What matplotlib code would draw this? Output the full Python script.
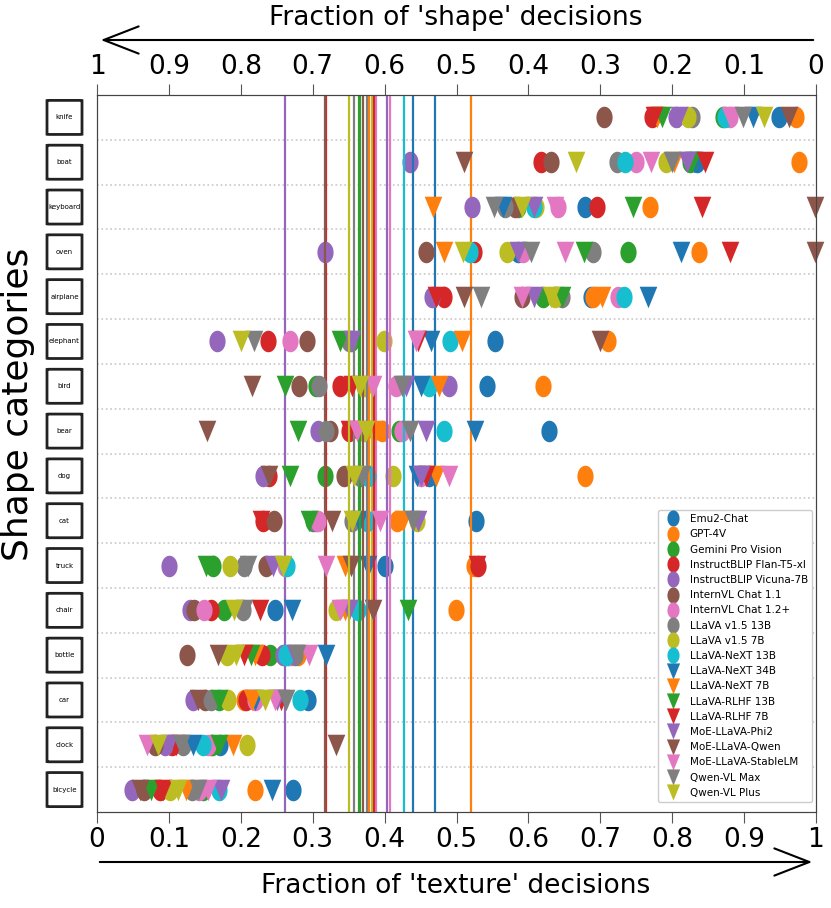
import numpy as np
import matplotlib
matplotlib.use("Agg")
import matplotlib.pyplot as plt
import matplotlib.transforms as mtransforms
from matplotlib.patches import FancyBboxPatch, FancyArrowPatch
from matplotlib.path import Path

# shape categories, top to bottom
categories = ["knife", "boat", "keyboard", "oven", "airplane", "elephant", "bird", "bear",
              "dog", "cat", "truck", "chair", "bottle", "car", "clock", "bicycle"]

# fraction of texture decisions per category
emu2_chat = [0.949, 0.835, 0.679, 0.585, 0.687, 0.553, 0.543, 0.629, 0.462, 0.527, 0.400, 0.247, 0.265, 0.293, 0.171, 0.272]
gpt_4v = [0.972, 0.976, 0.769, 0.837, 0.690, 0.711, 0.620, 0.396, 0.679, 0.417, 0.524, 0.499, 0.279, 0.204, 0.159, 0.220]
gemini_pro = [0.871, 0.825, 0.585, 0.739, 0.621, 0.353, 0.305, 0.420, 0.317, 0.300, 0.162, 0.177, 0.240, 0.170, 0.160, 0.147]
iblip_flan = [0.772, 0.618, 0.695, 0.524, 0.483, 0.238, 0.338, 0.351, 0.239, 0.231, 0.530, 0.158, 0.229, 0.207, 0.105, 0.087]
iblip_vicuna = [0.805, 0.436, 0.522, 0.317, 0.466, 0.167, 0.489, 0.307, 0.231, 0.305, 0.100, 0.129, 0.258, 0.134, 0.095, 0.049]
internvl_11 = [0.705, 0.631, 0.582, 0.457, 0.591, 0.292, 0.281, 0.324, 0.343, 0.246, 0.235, 0.135, 0.125, 0.150, 0.080, 0.065]
internvl_12 = [0.880, 0.749, 0.641, 0.592, 0.725, 0.268, 0.416, 0.424, 0.450, 0.307, 0.262, 0.149, 0.270, 0.220, 0.155, 0.142]
llava15_13b = [0.828, 0.723, 0.568, 0.690, 0.647, 0.350, 0.309, 0.318, 0.366, 0.354, 0.204, 0.203, 0.275, 0.158, 0.120, 0.132]
llava15_7b = [0.822, 0.791, 0.611, 0.570, 0.637, 0.399, 0.371, 0.371, 0.412, 0.445, 0.185, 0.332, 0.181, 0.182, 0.209, 0.102]
next_13b = [0.874, 0.735, 0.608, 0.519, 0.733, 0.491, 0.462, 0.483, 0.377, 0.375, 0.264, 0.363, 0.263, 0.283, 0.147, 0.170]
next_34b = [0.912, 0.830, 0.565, 0.812, 0.766, 0.464, 0.450, 0.526, 0.445, 0.365, 0.377, 0.271, 0.319, 0.220, 0.134, 0.244]
next_7b = [0.779, 0.803, 0.468, 0.482, 0.703, 0.508, 0.476, 0.388, 0.472, 0.425, 0.345, 0.345, 0.220, 0.215, 0.189, 0.124]
rlhf_13b = [0.786, 0.828, 0.745, 0.677, 0.647, 0.338, 0.261, 0.279, 0.268, 0.295, 0.152, 0.432, 0.214, 0.170, 0.170, 0.075]
rlhf_7b = [0.775, 0.845, 0.841, 0.880, 0.472, 0.447, 0.355, 0.350, 0.457, 0.228, 0.529, 0.227, 0.205, 0.256, 0.110, 0.092]
moe_phi2 = [0.810, 0.820, 0.608, 0.585, 0.608, 0.355, 0.430, 0.458, 0.450, 0.446, 0.245, 0.350, 0.275, 0.250, 0.100, 0.172]
moe_qwen = [0.962, 0.511, 0.999, 0.999, 0.511, 0.699, 0.215, 0.153, 0.239, 0.327, 0.353, 0.384, 0.168, 0.140, 0.333, 0.060]
moe_stablelm = [0.881, 0.770, 0.637, 0.651, 0.591, 0.443, 0.384, 0.361, 0.489, 0.394, 0.318, 0.338, 0.295, 0.247, 0.070, 0.154]
qwen_vl_max = [0.899, 0.800, 0.552, 0.603, 0.534, 0.218, 0.424, 0.435, 0.368, 0.439, 0.210, 0.205, 0.278, 0.263, 0.117, 0.140]
qwen_vl_plus = [0.928, 0.666, 0.591, 0.509, 0.631, 0.200, 0.366, 0.374, 0.357, 0.355, 0.259, 0.190, 0.194, 0.234, 0.085, 0.112]

model_names = ["Emu2-Chat", "GPT-4V", "Gemini Pro Vision", "InstructBLIP Flan-T5-xl",
               "InstructBLIP Vicuna-7B", "InternVL Chat 1.1", "InternVL Chat 1.2+",
               "LLaVA v1.5 13B", "LLaVA v1.5 7B", "LLaVA-NeXT 13B", "LLaVA-NeXT 34B",
               "LLaVA-NeXT 7B", "LLaVA-RLHF 13B", "LLaVA-RLHF 7B", "MoE-LLaVA-Phi2",
               "MoE-LLaVA-Qwen", "MoE-LLaVA-StableLM", "Qwen-VL Max", "Qwen-VL Plus"]
model_values = [emu2_chat, gpt_4v, gemini_pro, iblip_flan, iblip_vicuna, internvl_11,
                internvl_12, llava15_13b, llava15_7b, next_13b, next_34b, next_7b,
                rlhf_13b, rlhf_7b, moe_phi2, moe_qwen, moe_stablelm, qwen_vl_max, qwen_vl_plus]
# overall texture fraction per model (vertical lines)
model_means = [0.470, 0.520, 0.364, 0.318, 0.262, 0.317, 0.388, 0.358, 0.383, 0.427,
               0.440, 0.378, 0.366, 0.385, 0.403, 0.370, 0.407, 0.375, 0.351]

colors = plt.get_cmap("tab10").colors

# the reference figure is slightly stretched vertically -> tall markers
theta = np.linspace(0, 2 * np.pi, 64)
tall_circle = Path(np.column_stack([np.cos(theta) / 1.33, np.sin(theta)]))
tall_tri = Path([(-0.82, 1.0), (0.82, 1.0), (0.0, -1.0), (-0.82, 1.0)])

fig = plt.figure(figsize=(8.31, 9.08), dpi=100)
ax = fig.add_axes([97 / 831, 1 - 812 / 908, 719 / 831, 717 / 908])

n = len(categories)
ypos = np.arange(1, n + 1)

for i, (name, vals, avg) in enumerate(zip(model_names, model_values, model_means)):
    c = colors[i % 10]
    mk = tall_circle if i < 10 else tall_tri
    ax.plot(vals, ypos, marker=mk, color=c, markersize=15.5, markeredgewidth=0,
            linestyle="none", label=name, clip_on=False, zorder=3)
    ax.plot([avg, avg], [0.5, n + 0.5], color=c, lw=1.6, zorder=3)

for b in np.arange(1.5, n, 1.0):
    ax.axhline(b, color="#c8c8c8", ls=":", lw=1.2, zorder=1)

ax.set_xlim(0, 1)
ax.set_ylim(n + 0.5, 0.5)
ax.set_yticks([])
xt = np.round(np.arange(0, 1.01, 0.1), 1)
ax.set_xticks(xt)
ax.set_xticklabels(["0"] + ["%.1f" % v for v in xt[1:-1]] + ["1"], fontsize=19)
ax.tick_params(axis="x", direction="out", length=8, color="#555555", pad=3)

top = ax.twiny()
top.set_xlim(0, 1)
top.set_xticks(xt)
top.set_xticklabels(["1"] + ["%.1f" % (1 - v) for v in xt[1:-1]] + ["0"], fontsize=19)
top.tick_params(axis="x", direction="out", length=8, color="#555555", pad=3)
for sp in list(ax.spines.values()) + list(top.spines.values()):
    sp.set_color("#444444")

leg = ax.legend(loc="lower right", bbox_to_anchor=(0.9944, 0.0139), borderaxespad=0,
                fontsize=7.5, markerscale=0.75, handletextpad=0.6, labelspacing=0.5,
                framealpha=1, edgecolor="#cccccc", fancybox=True)

# category boxes on the left
blend = mtransforms.blended_transform_factory(fig.transFigure, ax.transData)
for y, cat in zip(ypos, categories):
    box = FancyBboxPatch((47 / 831, y - 0.38), 35 / 831, 0.76,
                         boxstyle="round,pad=0,rounding_size=0.004",
                         transform=blend, fc="white", ec="#222222", lw=2, clip_on=False)
    ax.add_patch(box)
    ax.text(64.5 / 831, y, cat, transform=blend, ha="center", va="center",
            fontsize=5, clip_on=False)

fig.text(18 / 831, 1 - 404 / 908, "Shape categories", rotation=90, ha="center", va="center",
         fontsize=26)

# direction arrows with axis titles
fig.text(456 / 831, 1 - 18 / 908, "Fraction of 'shape' decisions", ha="center", va="center", fontsize=19)
fig.patches.append(FancyArrowPatch(
    (816 / 831, 1 - 40 / 908), (98 / 831, 1 - 40 / 908), transform=fig.transFigure,
    arrowstyle="->,head_length=0.9,head_width=0.35", mutation_scale=28, lw=1.5, color="black"))
fig.text(456 / 831, 1 - 886 / 908, "Fraction of 'texture' decisions", ha="center", va="center", fontsize=19)
fig.patches.append(FancyArrowPatch(
    (97 / 831, 1 - 862 / 908), (815 / 831, 1 - 862 / 908), transform=fig.transFigure,
    arrowstyle="->,head_length=0.9,head_width=0.35", mutation_scale=28, lw=1.5, color="black"))

fig.savefig("out.png", dpi=100)
